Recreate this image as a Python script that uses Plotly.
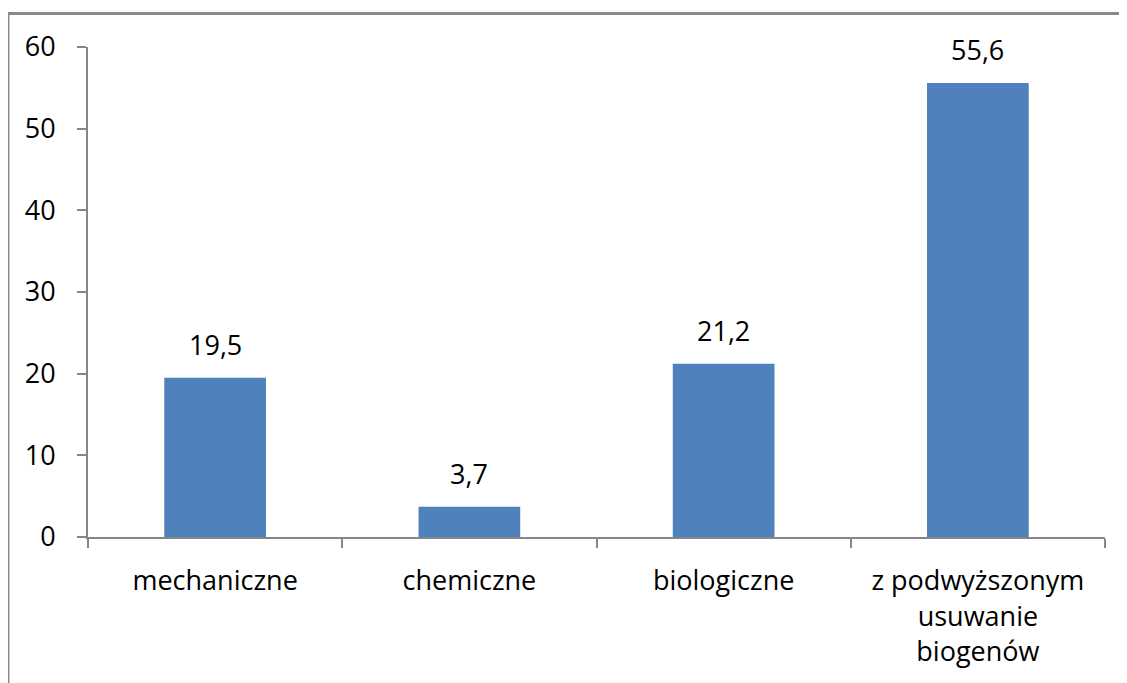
import plotly.graph_objects as go

categories = ["mechaniczne", "chemiczne", "biologiczne", "z podwyższonym<br>usuwanie<br>biogenów"]
values = [19.5, 3.7, 21.2, 55.6]
y_ticks = [0, 10, 20, 30, 40, 50, 60]

axis_grey = "#868686"
font = dict(family="Open Sans", size=27, color="#000000")

fig = go.Figure(go.Bar(x=categories, y=values, marker=dict(color="#4F81BD", line=dict(width=0)),
                       width=0.4, hoverinfo="skip"))

# etykiety wartości nad słupkami
for c, v in zip(categories, values):
    fig.add_annotation(x=c, y=v, text=f"{v:.1f}".replace(".", ","), showarrow=False,
                       yanchor="bottom", yshift=13, font=font)

# ramka wykresu (widoczna tylko z lewej i u góry)
fig.add_shape(type="rect", xref="paper", yref="paper", x0=-0.0787, y0=-0.5, x1=1.2, y1=1.0684,
              line=dict(color="#8a8a8a", width=3), layer="below")

fig.update_layout(
    width=1127, height=683,
    margin=dict(l=80, r=30, t=39, b=154),
    paper_bgcolor="white", plot_bgcolor="white",
    font=font, showlegend=False,
    separators=", ",
    xaxis=dict(showline=True, linecolor=axis_grey, linewidth=2, ticks="outside", ticklen=9,
               tickcolor=axis_grey, tickwidth=2, tickson="boundaries", showgrid=False,
               ticklabelstandoff=19),
    yaxis=dict(range=[0, 60], tickvals=y_ticks, showline=True, linecolor=axis_grey, linewidth=2,
               ticks="outside", ticklen=9, tickcolor=axis_grey, tickwidth=2, showgrid=False,
               zeroline=False, ticklabelstandoff=16),
)

fig.write_html("out.html")
